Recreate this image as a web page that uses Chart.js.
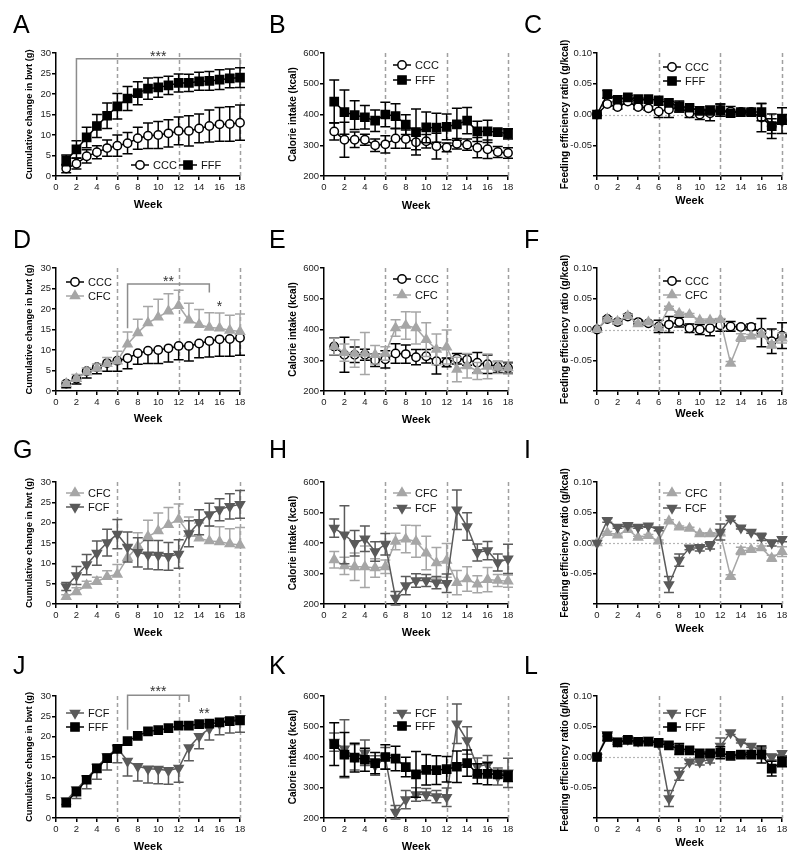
<!DOCTYPE html>
<html>
<head>
<meta charset="utf-8">
<script src="https://cdn.jsdelivr.net/npm/chart.js@4.4.0/dist/chart.umd.min.js"></script>
<style>
  body { margin: 0; background: #fff; width: 800px; height: 863px; position: relative; overflow: hidden;
         font-family: 'Liberation Sans', Arial, sans-serif; }
  .letter { position: absolute; font-size: 25px; line-height: 1; color: #000; }
</style>
</head>
<body>
<script>
// ---- data ----
const weeks = [1, 2, 3, 4, 5, 6, 7, 8, 9, 10, 11, 12, 13, 14, 15, 16, 17, 18];
const ferWeeks = [0, 1, 2, 3, 4, 5, 6, 7, 8, 9, 10, 11, 12, 13, 14, 15, 16, 17, 18];
const xTicks = [0, 2, 4, 6, 8, 10, 12, 14, 16, 18];
const phaseWeeks = [6, 12, 18];

// cumulative change in body weight (g), weeks 1-18
const cccBwt = [1.8, 3.0, 4.8, 5.8, 6.8, 7.4, 8.0, 9.2, 9.8, 10.0, 10.4, 11.0, 11.0, 11.6, 12.2, 12.6, 12.7, 13.0];
const cccBwtErr = [1.0, 1.3, 1.6, 1.6, 2.0, 2.6, 2.6, 2.7, 3.1, 3.3, 3.3, 3.4, 3.7, 3.5, 3.9, 4.1, 4.2, 4.3];
const fffBwt = [3.8, 6.5, 9.4, 12.2, 14.7, 17.0, 18.9, 20.2, 21.3, 21.6, 22.1, 22.7, 22.7, 23.1, 23.2, 23.5, 23.8, 24.0];
const fffBwtErr = [1.3, 2.1, 2.5, 2.8, 3.1, 3.1, 2.9, 2.8, 2.6, 2.4, 2.2, 2.2, 2.1, 2.2, 2.3, 2.4, 2.3, 2.4];
const cfcBwt = [1.8, 3.0, 4.6, 5.5, 6.7, 7.3, 11.4, 14.2, 16.6, 18.0, 19.5, 20.8, 17.3, 16.2, 15.5, 15.3, 14.8, 14.5];
const cfcBwtErr = [0.5, 1.0, 1.0, 1.1, 1.5, 2.4, 3.0, 3.3, 4.0, 4.4, 4.2, 3.8, 4.1, 3.7, 3.6, 3.7, 3.7, 4.3];
const fcfBwt = [4.3, 7.0, 9.7, 12.5, 15.1, 17.2, 14.0, 12.7, 12.1, 12.0, 11.7, 12.3, 17.3, 20.1, 22.0, 23.2, 24.0, 24.5];
const fcfBwtErr = [1.0, 2.2, 2.5, 3.0, 3.3, 3.6, 3.7, 3.6, 3.5, 3.6, 3.4, 3.5, 3.2, 3.1, 2.8, 2.7, 3.1, 3.4];

// calorie intake (kcal), weeks 1-18
const cccKcal = [345, 318, 318, 318, 300, 303, 322, 320, 310, 313, 297, 293, 305, 302, 292, 287, 278, 275];
const cccKcalErr = [28, 57, 25, 18, 20, 28, 32, 30, 25, 22, 42, 14, 17, 18, 33, 30, 18, 17];
const fffKcal = [442, 408, 398, 391, 380, 400, 395, 367, 343, 358, 357, 360, 368, 380, 345, 345, 343, 337];
const fffKcalErr = [70, 72, 47, 38, 35, 40, 40, 32, 75, 50, 47, 42, 52, 43, 33, 36, 10, 17];
const cfcKcal = [345, 325, 322, 322, 318, 322, 405, 413, 405, 367, 335, 343, 270, 282, 265, 280, 277, 275];
const cfcKcalErr = [27, 28, 45, 68, 30, 22, 27, 45, 52, 55, 50, 55, 40, 40, 28, 40, 20, 20];
const fcfKcal = [449, 427, 399, 414, 372, 396, 219, 260, 277, 277, 270, 268, 509, 454, 369, 375, 336, 348];
const fcfKcalErr = [30, 95, 42, 42, 32, 35, 22, 30, 22, 20, 20, 30, 65, 45, 28, 30, 28, 48];

// feeding efficiency ratio (g/kcal), weeks 0-18
const cccFer = [0, 0.017, 0.012, 0.021, 0.012, 0.010, 0.005, 0.008, 0.012, 0.002, 0.000, 0.002, 0.007, 0.005, 0.004, 0.004, -0.005, -0.019, -0.010];
const cccFerErr = [0, 0.003, 0.003, 0.004, 0.003, 0.003, 0.010, 0.013, 0.008, 0.007, 0.008, 0.012, 0.010, 0.008, 0.003, 0.005, 0.023, 0.020, 0.021];
const fffFer = [0, 0.033, 0.024, 0.028, 0.025, 0.025, 0.023, 0.019, 0.013, 0.011, 0.006, 0.006, 0.007, 0.002, 0.004, 0.004, 0.004, -0.019, -0.008];
const fffFerErr = [0, 0.006, 0.003, 0.003, 0.002, 0.002, 0.002, 0.002, 0.009, 0.002, 0.002, 0.002, 0.010, 0.002, 0.002, 0.003, 0.014, 0.012, 0.008];
const cfcFer = [0, 0.017, 0.013, 0.022, 0.009, 0.012, 0.003, 0.036, 0.026, 0.024, 0.015, 0.015, 0.016, -0.055, -0.013, -0.011, -0.008, -0.025, -0.014];
const cfcFerErr = [0, 0.002, 0.002, 0.003, 0.002, 0.002, 0.002, 0.002, 0.002, 0.002, 0.002, 0.002, 0.002, 0.003, 0.006, 0.003, 0.003, 0.005, 0.008];
const fcfFer = [0, 0.037, 0.026, 0.029, 0.026, 0.028, 0.022, -0.068, -0.028, -0.008, -0.008, -0.004, 0.018, 0.040, 0.025, 0.018, 0.010, 0.000, 0.006];
const fcfFerErr = [0, 0.003, 0.002, 0.002, 0.002, 0.002, 0.002, 0.013, 0.010, 0.003, 0.005, 0.006, 0.013, 0.003, 0.002, 0.002, 0.006, 0.005, 0.004];

// significance brackets (data units)
const sigA = { from: 2, to: 18, at: 28.6, legs: [8.7, 26.6], stars: [[10, 30.0, '***']] };
const sigD = { from: 7, to: 15, at: 26.1, legs: [15.3, 24.0], stars: [[11, 27.5, '**'], [16, 21.4, '*']] };
const sigJ = { from: 7, to: 13, at: 30.2, legs: [21.7, 28.5], stars: [[10, 31.9, '***'], [14.5, 26.6, '**']] };

// ---- styling ----
const groups = {
  CCC: { color: '#000', fill: '#fff', style: 'circle', r: 4.2, rot: 0,
         bwt: cccBwt, bwtErr: cccBwtErr, kcal: cccKcal, kcalErr: cccKcalErr, fer: cccFer, ferErr: cccFerErr },
  FFF: { color: '#000', fill: '#000', style: 'rect', r: 5.8, rot: 0,
         bwt: fffBwt, bwtErr: fffBwtErr, kcal: fffKcal, kcalErr: fffKcalErr, fer: fffFer, ferErr: fffFerErr },
  CFC: { color: '#a6a6a6', fill: '#a6a6a6', style: 'triangle', r: 5.2, rot: 0,
         bwt: cfcBwt, bwtErr: cfcBwtErr, kcal: cfcKcal, kcalErr: cfcKcalErr, fer: cfcFer, ferErr: cfcFerErr },
  FCF: { color: '#5a5a5a', fill: '#5a5a5a', style: 'triangle', r: 5.2, rot: 180,
         bwt: fcfBwt, bwtErr: fcfBwtErr, kcal: fcfKcal, kcalErr: fcfKcalErr, fer: fcfFer, ferErr: fcfFerErr },
};

const kinds = {
  bwt: { x: weeks, min: 0, max: 30, step: 5, title: 'Cumulative change in bwt (g)', titleSize: 9.4, fmt: v => String(v) },
  kcal: { x: weeks, min: 200, max: 600, step: 100, title: 'Calorie intake (kcal)', titleSize: 10, fmt: v => String(v) },
  fer: { x: ferWeeks, min: -0.1, max: 0.1, step: 0.05, title: 'Feeding efficiency ratio (g/kcal)', titleSize: 10,
         fmt: v => v < -0.099 ? '' : v.toFixed(2), zero: true },
};

const cols = [
  { x: 0, w: 265, l: 56, r: 240, titleX: 30, letterX: 13 },
  { x: 265, w: 265, l: 324, r: 508, titleX: 293, letterX: 269 },
  { x: 530, w: 270, l: 597, r: 782, titleX: 565, letterX: 524 },
];
const rows = [
  { y: 0, h: 215, t: 53, b: 176, week: [206, 207, 202], letterY: 12 },
  { y: 215, h: 215, t: 268, b: 391, week: [420, 421, 415], letterY: 227 },
  { y: 430, h: 215, t: 482, b: 604, week: [634, 634, 630], letterY: 437 },
  { y: 645, h: 218, t: 696, b: 818, week: [848, 848, 844], letterY: 653 },
];

const panels = [
  { letter: 'A', row: 0, col: 0, kind: 'bwt', groups: ['CCC', 'FFF'], dirs: ['both', 'both'], legend: [[140, 165], [188, 165]], sig: sigA },
  { letter: 'B', row: 0, col: 1, kind: 'kcal', groups: ['CCC', 'FFF'], dirs: ['both', 'both'], legend: [[402, 65], [402, 80]] },
  { letter: 'C', row: 0, col: 2, kind: 'fer', groups: ['CCC', 'FFF'], dirs: ['both', 'both'], legend: [[672, 67], [672, 81]] },
  { letter: 'D', row: 1, col: 0, kind: 'bwt', groups: ['CCC', 'CFC'], dirs: ['down', 'up'], legend: [[75, 282], [75, 296]], sig: sigD },
  { letter: 'E', row: 1, col: 1, kind: 'kcal', groups: ['CCC', 'CFC'], dirs: ['both', 'both'], legend: [[402, 279], [402, 295]] },
  { letter: 'F', row: 1, col: 2, kind: 'fer', groups: ['CCC', 'CFC'], dirs: ['both', 'both'], legend: [[672, 281], [672, 295]] },
  { letter: 'G', row: 2, col: 0, kind: 'bwt', groups: ['CFC', 'FCF'], dirs: ['up', 'both'], legend: [[75, 493], [75, 507]] },
  { letter: 'H', row: 2, col: 1, kind: 'kcal', groups: ['CFC', 'FCF'], dirs: ['both', 'both'], legend: [[402, 493], [402, 508]] },
  { letter: 'I', row: 2, col: 2, kind: 'fer', groups: ['CFC', 'FCF'], dirs: ['both', 'both'], legend: [[672, 493], [672, 508]] },
  { letter: 'J', row: 3, col: 0, kind: 'bwt', groups: ['FCF', 'FFF'], dirs: ['down', 'none'], legend: [[75, 713], [75, 727]], sig: sigJ },
  { letter: 'K', row: 3, col: 1, kind: 'kcal', groups: ['FCF', 'FFF'], dirs: ['both', 'both'], legend: [[402, 713], [402, 726]] },
  { letter: 'L', row: 3, col: 2, kind: 'fer', groups: ['FCF', 'FFF'], dirs: ['both', 'both'], legend: [[672, 713], [672, 727]] },
];

Chart.defaults.font.family = "'Liberation Sans', Arial, sans-serif";
Chart.defaults.color = '#000';

function makePanel(p) {
  const col = cols[p.col], row = rows[p.row], k = kinds[p.kind];

  const lt = document.createElement('div');
  lt.className = 'letter';
  lt.style.left = col.letterX + 'px';
  lt.style.top = row.letterY + 'px';
  lt.textContent = p.letter;

  const cv = document.createElement('canvas');
  cv.width = col.w; cv.height = row.h;
  cv.style.cssText = `position:absolute;left:${col.x}px;top:${row.y}px;width:${col.w}px;height:${row.h}px`;
  document.body.appendChild(cv);
  document.body.appendChild(lt);

  const padLeft = col.titleX - col.x - 6;
  const yw = col.l - col.x - padLeft;
  const weekY = row.week[p.col];
  const xh = weekY + 6 - row.b;
  const padBottom = row.y + row.h - (weekY + 6);

  const datasets = p.groups.map((g, i) => {
    const G = groups[g];
    const vals = G[p.kind];
    return {
      label: g,
      data: k.x.map((x, j) => ({ x: x, y: vals[j] })),
      err: G[p.kind + 'Err'],
      dir: p.dirs[i],
      borderColor: G.color,
      backgroundColor: G.fill,
      borderWidth: 1.5,
      pointStyle: G.style,
      pointRadius: G.r,
      pointRotation: G.rot,
      pointBackgroundColor: G.fill,
      pointBorderColor: G.color,
      pointBorderWidth: 1.5,
      tension: 0,
      clip: false,
      order: i === 0 ? 1 : 0
    };
  });

  const fig = {
    id: 'fig' + p.letter,
    beforeDatasetsDraw(chart) {
      const { ctx, chartArea: a, scales } = chart;
      ctx.save();
      ctx.lineWidth = 1.5;
      ctx.strokeStyle = '#a0a0a0';
      ctx.setLineDash([4, 3]);
      phaseWeeks.forEach(w => {
        const px = Math.round(scales.x.getPixelForValue(w)) + 0.5;
        ctx.beginPath(); ctx.moveTo(px, a.top); ctx.lineTo(px, a.bottom); ctx.stroke();
      });
      if (k.zero) {
        const py = Math.round(scales.y.getPixelForValue(0)) + 0.5;
        ctx.strokeStyle = '#b5b5b5';
        ctx.lineWidth = 1.2;
        ctx.setLineDash([2, 2]);
        ctx.beginPath(); ctx.moveTo(a.left, py); ctx.lineTo(a.right, py); ctx.stroke();
      }
      ctx.restore();
    },
    beforeDatasetDraw(chart, args) {
      const ds = chart.data.datasets[args.index];
      if (ds.dir === 'none') return;
      const { ctx, scales } = chart;
      ctx.save();
      ctx.strokeStyle = ds.borderColor;
      ctx.lineWidth = 1.5;
      ds.data.forEach((pt, j) => {
        const e = ds.err[j];
        if (!e) return;
        const px = scales.x.getPixelForValue(pt.x);
        const py = scales.y.getPixelForValue(pt.y);
        const ends = [];
        if (ds.dir !== 'down') ends.push(scales.y.getPixelForValue(pt.y + e));
        if (ds.dir !== 'up') ends.push(scales.y.getPixelForValue(pt.y - e));
        ends.forEach(q => {
          ctx.beginPath();
          ctx.moveTo(px, py); ctx.lineTo(px, q);
          ctx.moveTo(px - 5, q); ctx.lineTo(px + 5, q);
          ctx.stroke();
        });
      });
      ctx.restore();
    },
    afterDraw(chart) {
      const { ctx, scales } = chart;
      ctx.save();
      // significance brackets
      if (p.sig) {
        const s = p.sig;
        const x1 = scales.x.getPixelForValue(s.from), x2 = scales.x.getPixelForValue(s.to);
        const yb = scales.y.getPixelForValue(s.at);
        ctx.strokeStyle = '#8c8c8c';
        ctx.lineWidth = 1.5;
        ctx.beginPath();
        ctx.moveTo(x1, scales.y.getPixelForValue(s.legs[0]));
        ctx.lineTo(x1, yb); ctx.lineTo(x2, yb);
        ctx.lineTo(x2, scales.y.getPixelForValue(s.legs[1]));
        ctx.stroke();
        ctx.fillStyle = '#333';
        ctx.font = "14px 'Liberation Sans', Arial, sans-serif";
        ctx.textAlign = 'center';
        ctx.textBaseline = 'alphabetic';
        s.stars.forEach(([sx, sy, t]) => {
          ctx.fillText(t, scales.x.getPixelForValue(sx), scales.y.getPixelForValue(sy) + 8);
        });
      }
      // legend
      p.legend.forEach(([lx, ly], i) => {
        const G = groups[p.groups[i]];
        const x = lx - col.x, y = ly - row.y;
        ctx.strokeStyle = G.color;
        ctx.lineWidth = 1.5;
        ctx.setLineDash([]);
        ctx.beginPath(); ctx.moveTo(x - 9, y); ctx.lineTo(x + 9, y); ctx.stroke();
        ctx.fillStyle = G.fill;
        Chart.helpers.drawPoint(ctx, { pointStyle: G.style, radius: G.r, rotation: G.rot, borderWidth: 1.5 }, x, y);
        ctx.fillStyle = '#111';
        ctx.font = "11px 'Liberation Sans', Arial, sans-serif";
        ctx.textAlign = 'left';
        ctx.textBaseline = 'middle';
        ctx.fillText(p.groups[i], x + 13, y + 0.5);
      });
      ctx.restore();
    }
  };

  new Chart(cv, {
    type: 'line',
    data: { datasets: datasets },
    options: {
      responsive: false,
      animation: false,
      events: [],
      layout: { padding: { left: padLeft, right: col.x + col.w - col.r, top: row.t - row.y, bottom: padBottom } },
      plugins: { legend: { display: false }, tooltip: { enabled: false } },
      scales: {
        x: {
          type: 'linear', min: 0, max: 18,
          afterFit: s => { s.height = xh; },
          afterBuildTicks: s => { s.ticks = xTicks.map(v => ({ value: v })); },
          ticks: { autoSkip: false, maxRotation: 0, padding: 2, font: { size: 9.5 }, color: '#222' },
          grid: { drawOnChartArea: false, drawTicks: true, tickLength: 4, color: '#000', lineWidth: 1.5 },
          border: { display: true, color: '#000', width: 1.5 },
          title: { display: true, text: 'Week', font: { size: 11, weight: 'bold' }, padding: 0, color: '#000' }
        },
        y: {
          type: 'linear', min: k.min, max: k.max,
          afterFit: s => { s.width = yw; },
          ticks: { stepSize: k.step, padding: 1, font: { size: 9.5 }, color: '#222', callback: k.fmt },
          grid: { drawOnChartArea: false, drawTicks: true, tickLength: 4, color: '#000', lineWidth: 1.5 },
          border: { display: true, color: '#000', width: 1.5 },
          title: { display: true, text: k.title, font: { size: k.titleSize, weight: 'bold' }, padding: 0, color: '#000' }
        }
      }
    },
    plugins: [fig]
  });
}

panels.forEach(makePanel);
</script>
</body>
</html>
